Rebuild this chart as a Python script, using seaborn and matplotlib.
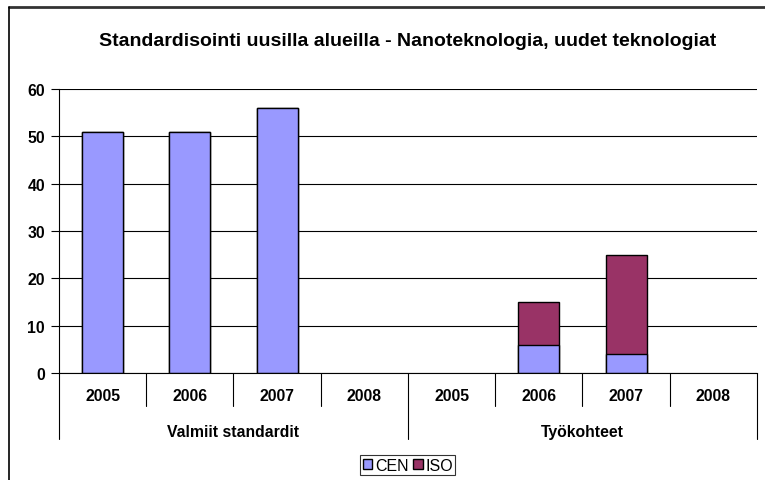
import matplotlib
matplotlib.use("Agg")
import matplotlib.pyplot as plt
from matplotlib.lines import Line2D
from matplotlib.patches import Patch
import seaborn as sns
import pandas as pd

groups = ["Valmiit standardit"] * 4 + ["Työkohteet"] * 4
years = ["2005", "2006", "2007", "2008"] * 2
cen = [51, 51, 56, 0, 0, 6, 4, 0]
iso = [0, 0, 0, 0, 0, 9, 21, 0]
group_names = ["Valmiit standardit", "Työkohteet"]

cen_col = "#9999FF"
iso_col = "#993366"

sns.set_style("white")
plt.rcParams["font.family"] = ["Liberation Sans", "DejaVu Sans"]
plt.rcParams["text.color"] = "black"
plt.rcParams["ytick.color"] = "black"
plt.rcParams["ytick.labelcolor"] = "black"

df = pd.DataFrame({"group": groups, "year": years, "CEN": cen, "ISO": iso})
df["key"] = df["group"] + " " + df["year"]
df["total"] = df["CEN"] + df["ISO"]
order = list(df["key"])

fig = plt.figure(figsize=(7.65, 4.81), dpi=100)
ax = fig.add_axes([0.0771, 0.2225, 0.9124, 0.5904])

# total in ISO colour first, CEN drawn over it -> stacked look
sns.barplot(data=df, x="key", y="total", order=order, color=iso_col,
            saturation=1, width=0.47, edgecolor="black", linewidth=1, ax=ax)
sns.barplot(data=df, x="key", y="CEN", order=order, color=cen_col,
            saturation=1, width=0.47, edgecolor="black", linewidth=1, ax=ax)
# hide zero-height bars outlines
for p in ax.patches:
    if p.get_height() == 0:
        p.set_visible(False)

ax.set_ylim(0, 60)
ax.set_xlim(-0.5, 7.5)
ax.set_yticks(range(0, 61, 10))
ax.yaxis.grid(True, color="black", linewidth=0.8)
ax.set_axisbelow(True)
for s in ["top", "right"]:
    ax.spines[s].set_visible(False)
ax.spines["left"].set_color("black")
ax.spines["bottom"].set_color("black")
ax.tick_params(axis="y", length=6, width=0.8, direction="out", left=True,
               labelsize=11.3, pad=4, color="black", labelcolor="black")
for t in ax.get_yticklabels():
    t.set_fontweight("bold")
ax.set_xticks([])
ax.set_xlabel("")
ax.set_ylabel("")

# multi-level category axis
trans = ax.get_xaxis_transform()
for i, y in enumerate(years):
    ax.text(i, -0.08, y, transform=trans, ha="center", va="center",
            fontsize=11.3, fontweight="bold")
for i in range(1, 8):
    if i == 4:
        continue
    ax.plot([i - 0.5, i - 0.5], [0, -0.116], transform=trans, color="black",
            linewidth=0.8, clip_on=False)
for x in [-0.5, 3.5, 7.5]:
    ax.plot([x, x], [0, -0.232], transform=trans, color="black",
            linewidth=0.8, clip_on=False)
for j, g in enumerate(group_names):
    ax.text(1.5 + 4 * j, -0.205, g, transform=trans, ha="center", va="center",
            fontsize=11.3, fontweight="bold")

fig.text(0.533, 1 - 42 / 481, "Standardisointi uusilla alueilla - Nanoteknologia, uudet teknologiat",
         ha="center", va="center", fontsize=14, fontweight="bold")

# outer frame lines (top and left)
fig.add_artist(Line2D([8.5 / 765, 1], [1 - 7.5 / 481] * 2, color="#333333", linewidth=2))
fig.add_artist(Line2D([8.5 / 765] * 2, [0, 1 - 7.5 / 481], color="black", linewidth=1.2))

handles = [Patch(facecolor=cen_col, edgecolor="black"),
           Patch(facecolor=iso_col, edgecolor="black")]
leg = fig.legend(handles, ["CEN", "ISO"], loc="center", bbox_to_anchor=(0.533, 0.031),
                 ncol=2, fontsize=11.5, frameon=True, fancybox=False,
                 handlelength=0.6, handleheight=0.6, handletextpad=0.15,
                 columnspacing=0.3, borderpad=0.15, borderaxespad=0)
leg.get_frame().set_edgecolor("black")
leg.get_frame().set_linewidth(0.8)

fig.savefig("out.png", dpi=100)
